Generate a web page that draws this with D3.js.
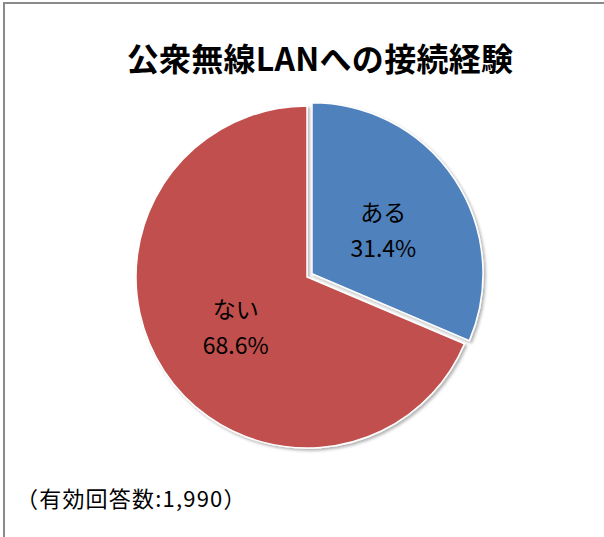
<!DOCTYPE html>
<html>
<head>
<meta charset="utf-8">
<script src="https://cdn.jsdelivr.net/npm/d3@7"></script>
<style>
  html, body { margin: 0; padding: 0; background: #fff; }
  svg { display: block; }
</style>
</head>
<body>
<div class="chart"></div>
<script>
// chart data
const title = "公衆無線LANへの接続経験";
const categories = ["ある", "ない"];
const values = [31.4, 68.6];
const colors = ["#4F81BD", "#C0504D"];
const note = "（有効回答数:1,990）";

const width = 604, height = 537;
const cx = 307, cy = 277, radius = 171;
const explode = 6; // first slice is pulled out

const svg = d3.select(".chart").append("svg")
    .attr("width", width)
    .attr("height", height);

// outer frame (cut by the window on the right and bottom)
svg.append("rect")
    .attr("x", 4).attr("y", 3)
    .attr("width", 800).attr("height", 800)
    .attr("fill", "none")
    .attr("stroke", "#8a8a8a")
    .attr("stroke-width", 2);

const defs = svg.append("defs");
const f = defs.append("filter").attr("id", "shadow")
    .attr("x", "-10%").attr("y", "-10%").attr("width", "120%").attr("height", "120%");
f.append("feDropShadow")
    .attr("dx", 2).attr("dy", 2)
    .attr("stdDeviation", 1.5)
    .attr("flood-color", "#000")
    .attr("flood-opacity", 0.3);

svg.append("text")
    .attr("x", 320)
    .attr("y", 71)
    .attr("text-anchor", "middle")
    .style("font-family", "'Noto Sans CJK JP', sans-serif")
    .style("font-weight", "bold")
    .style("font-size", "32px")
    .style("letter-spacing", "0.3px")
    .text(title);

const pie = d3.pie().sort(null).value(d => d.value);
const arc = d3.arc().innerRadius(0).outerRadius(radius);

const data = categories.map((c, i) => ({ name: c, value: values[i], color: colors[i] }));
const arcs = pie(data);

function offset(d, i) {
    if (i !== 0) return [0, 0];
    const a = (d.startAngle + d.endAngle) / 2;
    return [Math.sin(a) * explode, -Math.cos(a) * explode];
}

const g = svg.append("g").attr("transform", `translate(${cx},${cy})`);

g.selectAll("path")
    .data(arcs)
    .join("path")
    .attr("transform", (d, i) => `translate(${offset(d, i)})`)
    .attr("d", arc)
    .attr("fill", d => d.data.color)
    .attr("stroke", "#fff")
    .attr("stroke-width", 1.5)
    .attr("filter", "url(#shadow)");

const labels = g.selectAll("g.label")
    .data(arcs)
    .join("g")
    .attr("class", "label")
    .attr("transform", (d, i) => {
        const c = arc.centroid(d), o = offset(d, i);
        return `translate(${c[0] + o[0]},${c[1] + o[1]})`;
    })
    .style("font-family", "'Noto Sans CJK JP', sans-serif")
    .style("font-size", "23px")
    .attr("text-anchor", "middle")
    .attr("fill", "#000");

labels.append("text")
    .attr("y", -6)
    .text(d => d.data.name);

labels.append("text")
    .attr("y", 30)
    .text(d => d3.format(".1f")(d.data.value) + "%");

svg.append("text")
    .attr("x", 16)
    .attr("y", 507)
    .style("font-family", "'Noto Sans CJK JP', sans-serif")
    .style("font-size", "22px")
    .style("letter-spacing", "1.2px")
    .text(note);
</script>
</body>
</html>
